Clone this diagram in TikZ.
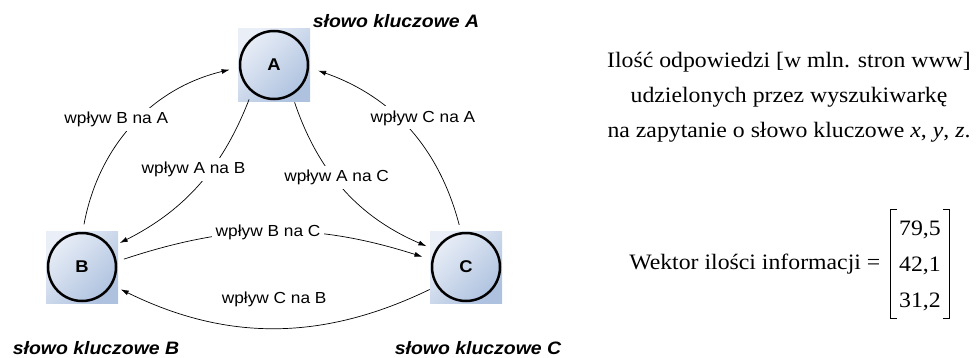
\documentclass[tikz,border=0pt]{standalone}
\usepackage{fontspec}
\setmainfont{Liberation Serif}[FakeStretch=1.08]
\setsansfont{Liberation Sans}[FakeStretch=1.08]
\usetikzlibrary{positioning,arrows.meta}
\definecolor{kwlight}{HTML}{E9EEF7}
\definecolor{kwdark}{HTML}{AEC2DF}
\tikzset{
  kwbox/.style={rectangle, minimum size=72pt, inner sep=0pt, top color=kwlight, bottom color=kwdark, shading angle=45},
  kw/.style={circle, draw, line width=2.5pt, minimum size=68pt, inner sep=0pt, font=\fontsize{17}{20}\selectfont\sffamily\bfseries},
  kwtitle/.style={font=\fontsize{18}{21}\selectfont\sffamily\bfseries\itshape},
  infl/.style={-{Latex[length=8pt,width=5pt]}, line width=0.7pt, shorten <=7.5pt, shorten >=9.5pt},
  lab/.style={fill=white, inner sep=4pt, font=\fontsize{16}{19}\selectfont\sffamily},
  txt/.style={align=center, font=\fontsize{22}{35}\selectfont}
}
\begin{document}
\begin{tikzpicture}[x=1pt,y=1pt]
\useasboundingbox (0,0) rectangle (976,357);
% slowa kluczowe
\node[kwbox] (Abox) at (274,292) {};
\node[kwbox] (Bbox) at (82,90) {};
\node[kwbox] (Cbox) at (466,90) {};
\node[kw] (A) at (Abox) {A};
\node[kw] (B) at (Bbox) {B};
\node[kw] (C) at (Cbox) {C};
\node[kwtitle] (tA) at (396,336) {słowo kluczowe A};
\node[kwtitle] (tB) at (96,9) {słowo kluczowe B};
\node[kwtitle] (tC) at (478,9) {słowo kluczowe C};
% wplywy
\draw[infl] (B.89) to[bend left=33] node[lab, pos=.53, xshift=-23pt] {wpływ B na A} (A.184);
\draw[infl] (A.231) to[bend left=21] node[lab, pos=.4, xshift=-17pt] {wpływ A na B} (B.34);
\draw[infl] (A.301) to[bend right=24] node[lab, pos=.42, xshift=2pt] {wpływ A na C} (C.151);
\draw[infl] (C.98) to[bend right=28] node[lab, pos=.57, xshift=26pt] {wpływ C na A} (A.-4);
\draw[infl] (B.9) to[bend left=18] node[lab, pos=.48] {wpływ B na C} (C.168);
\draw[infl] (C.213) to[bend left=26] node[lab, pos=.5, yshift=28pt] {wpływ C na B} (B.-31);
% opis i wektor
\node[txt] (desc) at (789,260) {Ilość odpowiedzi [w mln. stron www]\\ udzielonych przez wyszukiwarkę\\ na zapytanie o słowo kluczowe \textit{x}, \textit{y}, \textit{z}.};
\node[minimum width=58pt, minimum height=98pt, inner sep=0pt, font=\fontsize{22}{36}\selectfont] (vec) at (920,93) {\begin{tabular}{@{}c@{}}79,5\\42,1\\31,2\end{tabular}};
\draw[line width=0.8pt] ([xshift=6pt]vec.north west) -- (vec.north west) -- (vec.south west) -- ++(6pt,0);
\draw[line width=0.8pt] ([xshift=-6pt]vec.north east) -- (vec.north east) -- (vec.south east) -- ++(-6pt,0);
\node[txt, left=7pt of vec] (wek) {Wektor ilości informacji =};
\end{tikzpicture}
\end{document}
